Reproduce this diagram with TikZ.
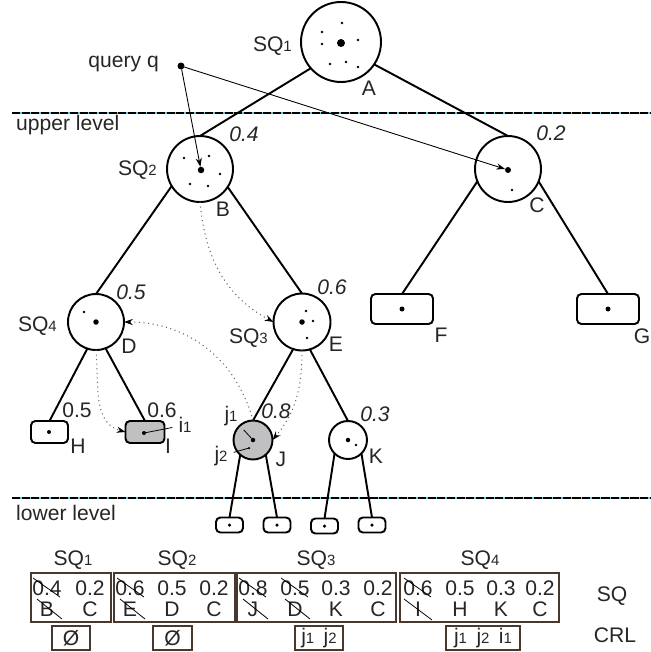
\documentclass[tikz,border=0pt]{standalone}
\usepackage{fontspec}
\setmainfont{Liberation Sans}
\usetikzlibrary{arrows.meta}
\definecolor{boxline}{RGB}{72,56,46}
\definecolor{nodegray}{RGB}{192,192,194}
\newcommand{\lsub}[1]{{\fontsize{8.5}{9}\selectfont #1}}

\begin{document}
\begin{tikzpicture}[x=0.02cm, y=-0.02cm, font=\fontsize{12}{14}\selectfont, text=black!85,
	tnode/.style={circle, draw, line width=1.1pt, inner sep=0pt, outer sep=0pt, minimum size=#1},
	leafbox/.style n args={2}{rectangle, rounded corners=2.5pt, draw, line width=1.1pt, inner sep=0pt, outer sep=0pt, minimum width=#1, minimum height=#2},
	cdot/.style={circle, fill=black, inner sep=0pt, outer sep=0pt, minimum size=#1},
	edge/.style={line width=1.1pt},
	qarrow/.style={line width=0.5pt, -{Stealth[length=5pt,width=3.5pt]}},
	hoparrow/.style={dotted, black!60, line width=0.6pt, -{Stealth[length=5pt,width=3.5pt,color=black]}},
	pointer/.style={line width=0.45pt},
	wlab/.style={font=\fontsize{12}{14}\selectfont\itshape},
	tbox/.style={draw=boxline, line width=0.6pt, inner sep=0pt},
	cell/.style={inner sep=0pt, minimum height=0.38cm},
	strike/.style={line width=0.45pt}]
		%%%%% FRAME %%%%%
		\useasboundingbox (0,0) rectangle (650,652);
		
		%%%%% LEVEL LINES %%%%%
		\draw[cyan!60, line width=0.6pt] (12,113) -- (650,113);
		\draw[line width=0.6pt, dash pattern=on 4.6pt off 0.9pt] (12,113) -- (650,113);
		\draw[cyan!60, line width=0.6pt] (12,498) -- (650,498);
		\draw[line width=0.6pt, dash pattern=on 4.6pt off 0.9pt] (12,498) -- (650,498);
		\node[anchor=west] (upperlab) at (10,125) {upper level};
		\node[anchor=west] (lowerlab) at (10,513) {lower level};
		
		%%%%% TREE NODES %%%%%
		\node[tnode=1.6cm] (A) at (341,42) {};
		\node[tnode=1.32cm] (B) at (200,169) {};
		\node[tnode=1.32cm] (C) at (508,169) {};
		\node[tnode=1.12cm] (D) at (96,322) {};
		\node[tnode=1.14cm] (E) at (302,322) {};
		\node[leafbox={1.24cm}{0.6cm}] (F) at (402,309) {};
		\node[leafbox={1.24cm}{0.6cm}] (G) at (608,309) {};
		\node[leafbox={0.74cm}{0.44cm}] (H) at (49.5,432) {};
		\node[leafbox={0.78cm}{0.44cm}, fill=nodegray] (I) at (145,432) {};
		\node[tnode=0.78cm, fill=nodegray] (J) at (253,440) {};
		\node[tnode=0.76cm] (K) at (348,440) {};
		\node[leafbox={0.54cm}{0.3cm}] (l1) at (229.5,525) {};
		\node[leafbox={0.54cm}{0.3cm}] (l2) at (277,525) {};
		\node[leafbox={0.54cm}{0.3cm}] (l3) at (324.5,526) {};
		\node[leafbox={0.54cm}{0.3cm}] (l4) at (372,525) {};
		
		%%%%% DOTS %%%%%
		\node[cdot=0.16cm] (Ac) at (341,43) {};
		\node[cdot=0.13cm] (Bc) at (201,170) {};
		\node[cdot=0.12cm] (Cc) at (508,170) {};
		\node[cdot=0.11cm] (Dc) at (96,322) {};
		\node[cdot=0.11cm] (Ec) at (302,322) {};
		\node[cdot=0.1cm] (Fc) at (402,309) {};
		\node[cdot=0.1cm] (Gc) at (608,309) {};
		\node[cdot=0.08cm] (Hc) at (49,432) {};
		\node[cdot=0.08cm] (Ic) at (144,433) {};
		\node[cdot=0.09cm] (Jc) at (253,440) {};
		\node[cdot=0.05cm] (Js) at (249,448) {};
		\node[cdot=0.09cm] (Kc) at (348,440) {};
		\foreach \x in {229.5,277,372} \fill (\x,525) circle (0.035cm);
		\fill (324.5,526) circle (0.035cm);
		\foreach \x/\y in {342/23,322/32,322/44,358/40,330/64,346/62,358/67,
			184/158,209/156,220/174,190/184,208/186,512/190,84/312,
			306/311,313/321,307/338,356/445}
			\fill (\x,\y) circle (0.026cm);
		
		%%%%% EDGES %%%%%
		\draw[edge] (A.221) -- (B.north);
		\draw[edge] (A.326) -- (C.north);
		\draw[edge] (B.211) -- (D.north);
		\draw[edge] (B.327) -- (E.north);
		\draw[edge] (C.202) -- (F.north);
		\draw[edge] (C.338) -- (G.north);
		\draw[edge] (D.252) -- (H.north);
		\draw[edge] (D.290) -- (I.north);
		\draw[edge] (E.252) -- (J.north);
		\draw[edge] (E.286) -- (K.north);
		\draw[edge] (J.229) -- (l1.north);
		\draw[edge] (J.311) -- (l2.north);
		\draw[edge] (K.225) -- (l3.north);
		\draw[edge] (K.315) -- (l4.north);
		
		%%%%% QUERY %%%%%
		\node[cdot=0.14cm] (q) at (181,66) {};
		\node[anchor=east] (qlab) at (165,64) {query q};
		\draw[qarrow] (q) -- (Bc);
		\draw[qarrow] (q) -- (Cc);
		
		%%%%% VISIT ORDER %%%%%
		\draw[hoparrow] (B.south) to[out=-85, in=152] (E.west);
		\draw[hoparrow] (J.north) to[out=105, in=0] (D.east);
		\draw[hoparrow] (D.south) to[out=-85, in=165] (I.west);
		\draw[hoparrow] (E.south) to[out=-90, in=50] (J.east);
		
		%%%%% TREE LABELS %%%%%
		\node[anchor=east] (sq1lab) at (298,46) {SQ\lsub{1}};
		\node (Alab) at (369,88) {A};
		\node[anchor=east] (sq2lab) at (163,170) {SQ\lsub{2}};
		\node[wlab] (w04) at (244,134) {0.4};
		\node (Blab) at (223,209) {B};
		\node[wlab] (w02) at (551,133) {0.2};
		\node (Clab) at (537,205) {C};
		\node[anchor=east] (sq4lab) at (63,326) {SQ\lsub{4}};
		\node[wlab] (w05) at (131,292) {0.5};
		\node (Dlab) at (129,346) {D};
		\node[anchor=east] (sq3lab) at (274,338) {SQ\lsub{3}};
		\node[wlab] (w06) at (332,287) {0.6};
		\node (Elab) at (336,344) {E};
		\node (Flab) at (441,335) {F};
		\node (Glab) at (642,336) {G};
		\node (w05h) at (77,410) {0.5};
		\node (Hlab) at (78,446) {H};
		\node (w06i) at (162,410) {0.6};
		\node (Ilab) at (168,446) {I};
		\node (i1lab) at (185,425) {i\lsub{1}};
		\draw[pointer] (Ic) -- (i1lab);
		\node[wlab] (w08) at (276,411) {0.8};
		\node (Jlab) at (281,459) {J};
		\node (j1lab) at (231,416) {j\lsub{1}};
		\node (j2lab) at (221,456) {j\lsub{2}};
		\draw[pointer] (j1lab) -- (Jc);
		\draw[pointer] (j2lab) -- (Js);
		\node[wlab] (w03) at (375,414) {0.3};
		\node (Klab) at (376,456) {K};
		
		%%%%% QUEUE TABLE %%%%%
		\node (t1) at (73,560) {SQ\lsub{1}};
		\node (t2) at (177,560) {SQ\lsub{2}};
		\node (t3) at (316,560) {SQ\lsub{3}};
		\node (t4) at (480,560) {SQ\lsub{4}};
		\node[tbox, minimum width=1.6cm, minimum height=0.98cm] (sq1box) at (71,597.5) {};
		\node[tbox, minimum width=2.42cm, minimum height=0.98cm] (sq2box) at (174.5,597.5) {};
		\node[tbox, minimum width=3.18cm, minimum height=0.98cm] (sq3box) at (316.5,597.5) {};
		\node[tbox, minimum width=3.18cm, minimum height=0.98cm] (sq4box) at (479.5,597.5) {};
		
		\node[cell] (a1) at (47,588) {0.4};  \node[cell] (a1k) at (47,609) {B};
		\node[cell] (a2) at (90,588) {0.2};  \node[cell] (a2k) at (90,609) {C};
		\node[cell] (b1) at (130,588) {0.6}; \node[cell] (b1k) at (130,609) {E};
		\node[cell] (b2) at (172,588) {0.5}; \node[cell] (b2k) at (172,609) {D};
		\node[cell] (b3) at (214,588) {0.2}; \node[cell] (b3k) at (214,609) {C};
		\node[cell] (c1) at (253,588) {0.8}; \node[cell] (c1k) at (253,609) {J};
		\node[cell] (c2) at (295,588) {0.5}; \node[cell] (c2k) at (295,609) {D};
		\node[cell] (c3) at (336,588) {0.3}; \node[cell] (c3k) at (336,609) {K};
		\node[cell] (c4) at (378,588) {0.2}; \node[cell] (c4k) at (378,609) {C};
		\node[cell] (d1) at (418,588) {0.6}; \node[cell] (d1k) at (418,609) {I};
		\node[cell] (d2) at (460,588) {0.5}; \node[cell] (d2k) at (460,609) {H};
		\node[cell] (d3) at (501,588) {0.3}; \node[cell] (d3k) at (501,609) {K};
		\node[cell] (d4) at (540,588) {0.2}; \node[cell] (d4k) at (540,609) {C};
		
		\draw[strike] (33,578) -- (60,597);
		\draw[strike] (37,599) -- (62,619);
		\draw[strike] (117,578) -- (144,597);
		\draw[strike] (120,599) -- (145,619);
		\draw[strike] (239,578) -- (266,597);
		\draw[strike] (243,599) -- (268,619);
		\draw[strike] (281,578) -- (308,597);
		\draw[strike] (285,599) -- (310,619);
		\draw[strike] (404,578) -- (431,597);
		\draw[strike] (404,599) -- (432,620);
		
		\node[tbox, minimum width=0.76cm, minimum height=0.48cm] (crl1) at (71,638) {Ø};
		\node[tbox, minimum width=0.78cm, minimum height=0.48cm] (crl2) at (172.5,638) {Ø};
		\node[tbox, minimum width=0.96cm, minimum height=0.48cm] (crl3) at (319,638) {j\lsub{1}\hspace{0.45em}j\lsub{2}};
		\node[tbox, minimum width=1.48cm, minimum height=0.48cm] (crl4) at (483,638) {j\lsub{1}\hspace{0.45em}j\lsub{2}\hspace{0.45em}i\lsub{1}};
		
		\node (sqlab) at (612,596) {SQ};
		\node (crllab) at (615,635) {CRL};
	\end{tikzpicture}
\end{document}
